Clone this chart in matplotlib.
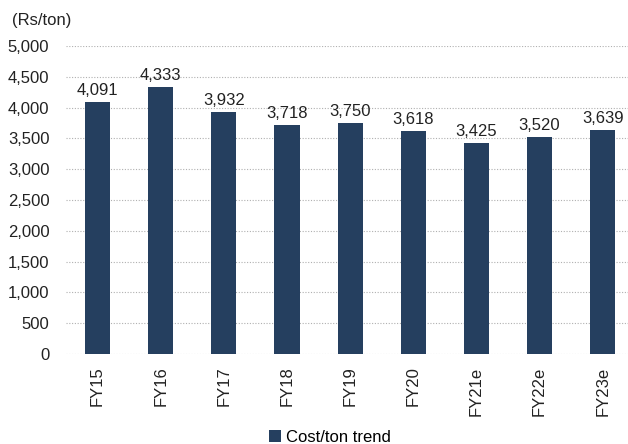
import matplotlib
matplotlib.use("Agg")
import matplotlib.pyplot as plt
from matplotlib import font_manager

categories = ["FY15", "FY16", "FY17", "FY18", "FY19", "FY20", "FY21e", "FY22e", "FY23e"]
values = [4091, 4333, 3932, 3718, 3750, 3618, 3425, 3520, 3639]
yticks = [0, 500, 1000, 1500, 2000, 2500, 3000, 3500, 4000, 4500, 5000]

names = {f.name for f in font_manager.fontManager.ttflist}
fam = "Liberation Sans Narrow" if "Liberation Sans Narrow" in names else "Liberation Sans"
plt.rcParams["font.family"] = [fam, "DejaVu Sans"]

color = "#253f5f"
fig = plt.figure(figsize=(6.28, 4.44), dpi=100)
ax = fig.add_axes([66/628, 90/444, 562/628, 308/444])
x = list(range(len(categories)))
bars = ax.bar(x, values, width=0.4, color=color, label="Cost/ton trend", zorder=3)
for xi, v in zip(x, values):
    ax.annotate(f"{v:,}", (xi, v), xytext=(0, 3), textcoords="offset points",
                ha="center", va="bottom", fontsize=12, color="#222222")
ax.set_ylim(0, 5000)
ax.set_xlim(-0.5, 8.4)
ax.set_yticks(yticks)
ax.set_yticklabels([f"{t:,}" for t in yticks], fontsize=12, color="#222222")
ax.set_xticks(x)
ax.set_xticklabels(categories, rotation=90, fontsize=12, color="#222222")
ax.tick_params(length=0)
ax.tick_params(axis="y", pad=12)
ax.tick_params(axis="x", pad=9)
ax.yaxis.grid(True, linestyle=(0, (1, 1.5)), color="#b0b0b0", linewidth=0.8, zorder=0)
for s in ax.spines.values():
    s.set_visible(False)
fig.text(12/628, 1 - 20/444, "(Rs/ton)", fontsize=12, color="#222222", va="center", ha="left")
fig.legend(handles=[bars], labels=["Cost/ton trend"], loc="center", bbox_to_anchor=(330/628, 1 - 437/444),
           frameon=False, fontsize=12, handlelength=0.7, handleheight=0.7, handletextpad=0.3)
fig.savefig("out.png", dpi=100)
